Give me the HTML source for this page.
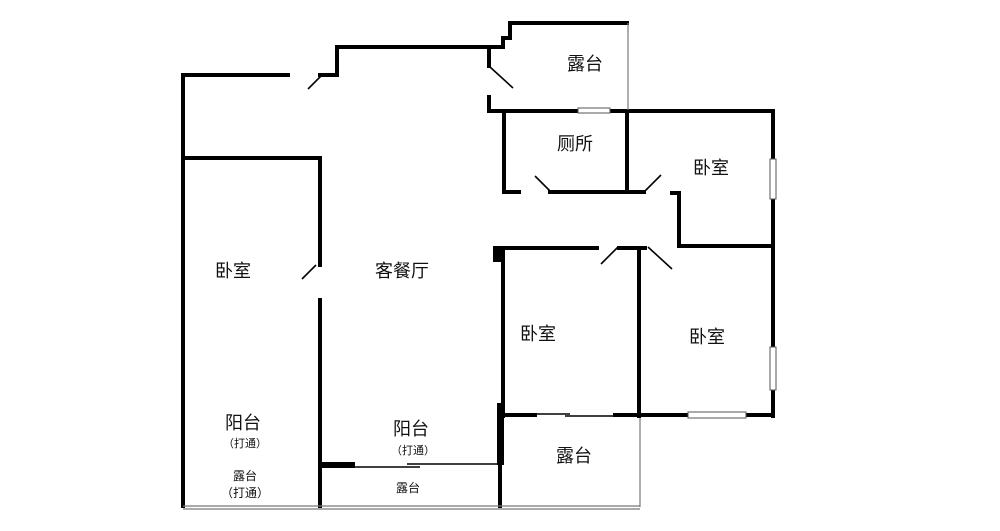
<!DOCTYPE html>
<html><head><meta charset="utf-8"><style>
html,body{margin:0;padding:0;background:#fff;}
svg{display:block;}
text{font-family:"Liberation Sans","Noto Sans CJK SC",sans-serif;fill:#111;text-anchor:middle;}
</style></head><body>
<svg width="1000" height="531" viewBox="0 0 1000 531" xmlns="http://www.w3.org/2000/svg">
<g stroke="#000" stroke-width="4" fill="none" stroke-linecap="square">
<!-- top left -->
<polyline points="288,75 183,75 183,506"/>
<polyline points="320,75 337,75 337,47 503,47 503,38 510,38 510,23 627,23"/>
<line x1="489" y1="47" x2="489" y2="66"/>
<polyline points="489,97 489,111 773,111 773,416"/>
<!-- toilet -->
<polyline points="519,192 504,192 504,111"/>
<line x1="550" y1="192" x2="644" y2="192"/>
<line x1="627" y1="111" x2="627" y2="192"/>
<!-- top right bedroom inner -->
<polyline points="672,193 679,193 679,246 773,246"/>
<!-- left bedroom -->
<polyline points="183,158 320,158 320,265"/>
<line x1="320" y1="300" x2="320" y2="506"/>
<!-- middle bedroom -->
<line x1="503" y1="248" x2="597" y2="248"/>
<line x1="619" y1="248" x2="645" y2="248"/>
<line x1="639" y1="248" x2="639" y2="416"/>
<line x1="503" y1="248" x2="503" y2="416"/>
<line x1="503" y1="415" x2="535" y2="415"/>
<line x1="615" y1="415" x2="773" y2="415"/>
<line x1="500" y1="465" x2="500" y2="506"/>
</g>
<g fill="#000">
<rect x="493" y="246" width="10" height="16"/>
<rect x="497" y="403" width="7" height="62"/>
<rect x="320" y="462" width="35" height="6"/>
</g>
<g stroke="#000" stroke-width="1.6" fill="none">
<line x1="308" y1="89" x2="322" y2="75"/>
<line x1="490" y1="67" x2="513" y2="88"/>
<line x1="535" y1="176" x2="550" y2="191"/>
<line x1="644" y1="192" x2="661" y2="175"/>
<line x1="601" y1="264" x2="618" y2="247"/>
<line x1="648" y1="247" x2="672" y2="269"/>
<line x1="302" y1="279" x2="316" y2="265"/>
<line x1="355" y1="467" x2="420" y2="467"/>
<line x1="407" y1="464" x2="497" y2="464"/>
<line x1="535" y1="414" x2="570" y2="414"/>
<line x1="565" y1="416" x2="615" y2="416"/>
</g>
<g stroke="#777" stroke-width="1.2" fill="none">
<line x1="628" y1="23" x2="628" y2="110"/>
<line x1="640" y1="418" x2="640" y2="507"/>
<line x1="183" y1="506" x2="640" y2="506"/>
<line x1="183" y1="509" x2="640" y2="509"/>
</g>
<g fill="#fff" stroke="#555" stroke-width="1">
<rect x="578" y="108" width="32" height="5"/>
<rect x="770" y="159" width="6" height="40"/>
<rect x="770" y="347" width="6" height="43"/>
<rect x="688" y="412" width="58" height="6"/>
</g>
<text x="585" y="70" font-size="18">露台</text>
<text x="575" y="150" font-size="18">厕所</text>
<text x="711" y="174" font-size="18">卧室</text>
<text x="233" y="277" font-size="18">卧室</text>
<text x="402" y="277" font-size="18">客餐厅</text>
<text x="538" y="340" font-size="18">卧室</text>
<text x="707" y="343" font-size="18">卧室</text>
<text x="243" y="429" font-size="18">阳台</text>
<text x="245" y="447" font-size="11">（打通）</text>
<text x="411" y="435" font-size="18">阳台</text>
<text x="413" y="454" font-size="11">（打通）</text>
<text x="245" y="480" font-size="12">露台</text>
<text x="245" y="497" font-size="12">（打通）</text>
<text x="408" y="492" font-size="12">露台</text>
<text x="574" y="462" font-size="18">露台</text>
</svg>
</body></html>
